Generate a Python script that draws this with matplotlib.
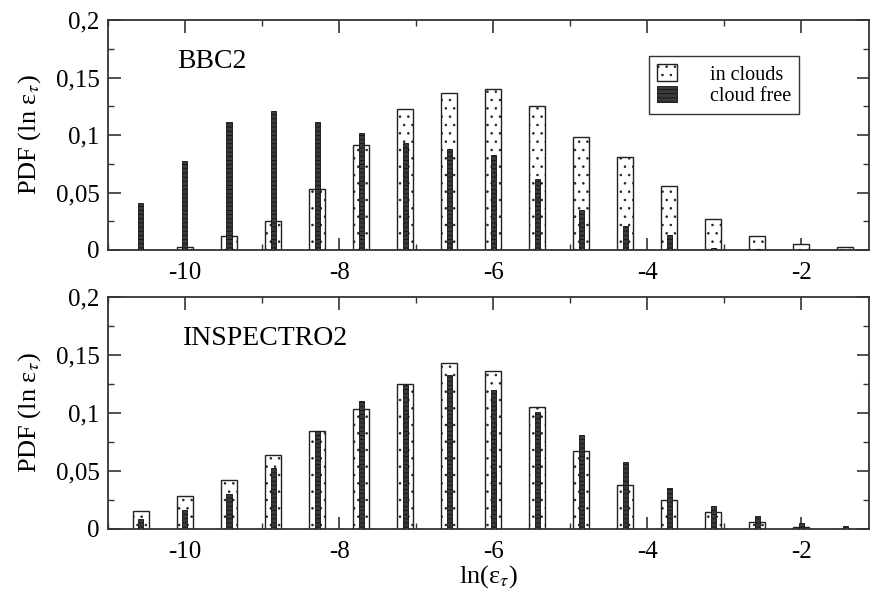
import numpy as np
import matplotlib
matplotlib.use('Agg')
import matplotlib.pyplot as plt
from matplotlib.ticker import MultipleLocator, FixedLocator, FixedFormatter

# bin centres: -6 + k*4/7, k = -8..8
bin_k = np.arange(-8, 9)
bin_width = 4.0 / 7.0
centres = -6.0 + bin_k * bin_width

# BBC2
bbc_in_clouds = [0.0, 0.003, 0.0125, 0.0256, 0.053, 0.091, 0.1227, 0.1363, 0.140,
                 0.1256, 0.098, 0.081, 0.056, 0.027, 0.012, 0.005, 0.0026]
bbc_cloud_free = [0.041, 0.077, 0.111, 0.121, 0.111, 0.102, 0.093, 0.088, 0.083,
                  0.062, 0.035, 0.021, 0.013, 0.002, 0.0008, 0.0, 0.0]

# INSPECTRO2
insp_in_clouds = [0.0152, 0.0287, 0.0425, 0.0635, 0.0848, 0.1037, 0.1247, 0.1428, 0.136,
                  0.1049, 0.067, 0.038, 0.0253, 0.0147, 0.0057, 0.0014, 0.0]
insp_cloud_free = [0.0086, 0.0167, 0.030, 0.0526, 0.0848, 0.1106, 0.124, 0.1325, 0.1195,
                   0.1006, 0.0813, 0.0578, 0.0356, 0.0195, 0.0115, 0.005, 0.0029]

panels = ['BBC2', 'INSPECTRO2']
ytick_vals = [0, 0.05, 0.1, 0.15, 0.2]
ytick_labels = ['0', '0,05', '0,1', '0,15', '0,2']
xtick_vals = [-10, -8, -6, -4, -2]

plt.rcParams['font.family'] = ['Liberation Serif', 'DejaVu Serif']
plt.rcParams['mathtext.fontset'] = 'stix'
plt.rcParams['axes.unicode_minus'] = False
plt.rcParams['hatch.linewidth'] = 0.6

fig = plt.figure(figsize=(8.75, 5.9), dpi=100)
ax1 = fig.add_axes([0.1234, 0.5763, 0.8696, 0.3897])
ax2 = fig.add_axes([0.1234, 0.1034, 0.8696, 0.3932])

data = [(bbc_in_clouds, bbc_cloud_free), (insp_in_clouds, insp_cloud_free)]
for ax, name, (inc, free) in zip([ax1, ax2], panels, data):
    ax.bar(centres, inc, width=0.21, color='white', edgecolor='#222222',
           linewidth=1.0, hatch='..', label='in clouds', zorder=2)
    ax.bar(centres, free, width=0.065, color='#3a3a3a', edgecolor='#111111',
           linewidth=0.6, hatch='----', label='cloud free', zorder=3)
    ax.set_xlim(-11.0, -1.12)
    ax.set_ylim(0, 0.2)
    ax.xaxis.set_major_locator(FixedLocator(xtick_vals))
    ax.xaxis.set_minor_locator(MultipleLocator(1))
    ax.yaxis.set_major_locator(FixedLocator(ytick_vals))
    ax.yaxis.set_major_formatter(FixedFormatter(ytick_labels))
    ax.yaxis.set_minor_locator(MultipleLocator(0.025))
    ax.tick_params(which='both', direction='in', top=True, right=True,
                   labelsize=18, color='#333333')
    ax.tick_params(which='major', length=9, width=1.2)
    ax.tick_params(which='minor', length=4.5, width=1.0)
    ax.tick_params(axis='x', pad=9)
    ax.tick_params(axis='y', pad=6)
    for sp in ax.spines.values():
        sp.set_linewidth(1.3)
        sp.set_color('#333333')
    ax.set_ylabel(r'PDF (ln ε$_\tau$)', fontsize=19, labelpad=9)
    ax.text(0.0907 if name == 'BBC2' else 0.0986, 0.82, name, transform=ax.transAxes,
            fontsize=20, ha='left', va='center')

ax1.legend(loc='upper right', bbox_to_anchor=(0.908, 0.843), fontsize=14.5,
           frameon=True, fancybox=False, edgecolor='#333333', handlelength=1.0,
           handleheight=0.9, handletextpad=1.6, borderpad=0.4, labelspacing=0.05,
           borderaxespad=0, framealpha=1)
ax2.set_xlabel(r'ln(ε$_\tau$)', fontsize=19, labelpad=0)

fig.savefig('out.png', dpi=100)
